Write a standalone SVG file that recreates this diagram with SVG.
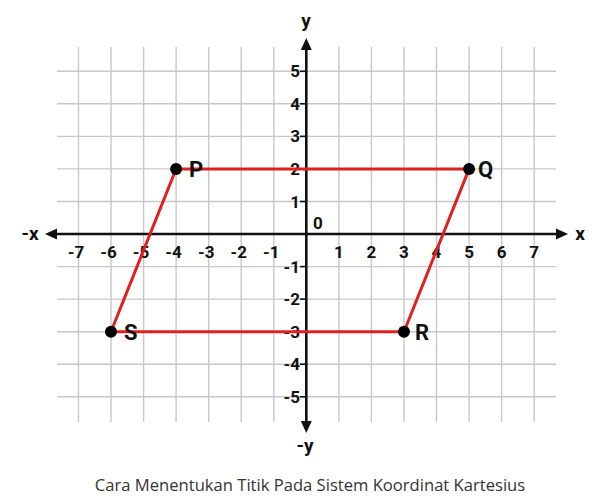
<svg xmlns="http://www.w3.org/2000/svg" width="608" height="504" viewBox="0 0 608 504">
<style>
.grid line{stroke:#c8c8c8;stroke-width:1.4}
.axis{stroke:#111;stroke-width:2.6}
.tick{stroke:#111;stroke-width:1.6}
.num{font-family:Roboto,"Liberation Sans",sans-serif;font-weight:bold;font-size:17px;fill:#111}
.xn{text-anchor:middle}
.yn{text-anchor:end}
.lab{font-family:Roboto,"Liberation Sans",sans-serif;font-weight:bold;font-size:19px;fill:#111}
.pt{font-family:Roboto,"Liberation Sans",sans-serif;font-weight:bold;font-size:22px;fill:#111}
.edge{stroke:#e0201e;stroke-width:3;fill:none}
.dot{fill:#000}
.cap{font-family:"Open Sans","Noto Sans",sans-serif;font-size:16.6px;fill:#333}
</style>
<rect width="608" height="504" fill="#fff"/>
<g id="grid" class="grid">
<line x1="78.5" y1="47" x2="78.5" y2="422"/>
<line x1="111" y1="47" x2="111" y2="422"/>
<line x1="143.6" y1="47" x2="143.6" y2="422"/>
<line x1="176.1" y1="47" x2="176.1" y2="422"/>
<line x1="208.7" y1="47" x2="208.7" y2="422"/>
<line x1="241.2" y1="47" x2="241.2" y2="422"/>
<line x1="273.8" y1="47" x2="273.8" y2="422"/>
<line x1="338.9" y1="47" x2="338.9" y2="422"/>
<line x1="371.4" y1="47" x2="371.4" y2="422"/>
<line x1="404" y1="47" x2="404" y2="422"/>
<line x1="436.5" y1="47" x2="436.5" y2="422"/>
<line x1="469.1" y1="47" x2="469.1" y2="422"/>
<line x1="501.6" y1="47" x2="501.6" y2="422"/>
<line x1="534.2" y1="47" x2="534.2" y2="422"/>
<line x1="57" y1="71.3" x2="556" y2="71.3"/>
<line x1="57" y1="103.8" x2="556" y2="103.8"/>
<line x1="57" y1="136.4" x2="556" y2="136.4"/>
<line x1="57" y1="168.9" x2="556" y2="168.9"/>
<line x1="57" y1="201.5" x2="556" y2="201.5"/>
<line x1="57" y1="266.6" x2="556" y2="266.6"/>
<line x1="57" y1="299.1" x2="556" y2="299.1"/>
<line x1="57" y1="331.7" x2="556" y2="331.7"/>
<line x1="57" y1="364.2" x2="556" y2="364.2"/>
<line x1="57" y1="396.8" x2="556" y2="396.8"/>
</g>
<g id="axes">
<line class="axis" x1="54" y1="234" x2="559" y2="234"/>
<line class="axis" x1="306.3" y1="48" x2="306.3" y2="424"/>
<polygon points="45,234 57,228.5 57,239.5" fill="#111"/>
<polygon points="568,234 556,228.5 556,239.5" fill="#111"/>
<polygon points="306.3,38 300.8,50 311.8,50" fill="#111"/>
<polygon points="306.3,433 300.8,421 311.8,421" fill="#111"/>
<g class="tick">
<line x1="300" y1="71.3" x2="306" y2="71.3"/>
<line x1="300" y1="103.8" x2="306" y2="103.8"/>
<line x1="300" y1="136.4" x2="306" y2="136.4"/>
<line x1="300" y1="168.9" x2="306" y2="168.9"/>
<line x1="300" y1="201.5" x2="306" y2="201.5"/>
<line x1="300" y1="266.6" x2="306" y2="266.6"/>
<line x1="300" y1="299.1" x2="306" y2="299.1"/>
<line x1="300" y1="331.7" x2="306" y2="331.7"/>
<line x1="300" y1="364.2" x2="306" y2="364.2"/>
<line x1="300" y1="396.8" x2="306" y2="396.8"/>
</g>
<text class="lab" x="30" y="240" text-anchor="middle">-x</text>
<text class="lab" x="580" y="240" text-anchor="middle">x</text>
<text class="lab" x="306" y="27" text-anchor="middle">y</text>
<text class="lab" x="305" y="452" text-anchor="middle">-y</text>
<text class="num" x="313" y="229">0</text>
</g>
<g id="xlabels" class="num xn">
<text x="76" y="257.5">-7</text>
<text x="108.5" y="257.5">-6</text>
<text x="141" y="257.5">-5</text>
<text x="173.6" y="257.5">-4</text>
<text x="206.2" y="257.5">-3</text>
<text x="238.7" y="257.5">-2</text>
<text x="271.3" y="257.5">-1</text>
<text x="338.9" y="257.5">1</text>
<text x="371.4" y="257.5">2</text>
<text x="404" y="257.5">3</text>
<text x="436.5" y="257.5">4</text>
<text x="469.1" y="257.5">5</text>
<text x="501.6" y="257.5">6</text>
<text x="534.2" y="257.5">7</text>
</g>
<g id="ylabels" class="num yn">
<text x="300" y="77.3">5</text>
<text x="300" y="109.8">4</text>
<text x="300" y="142.4">3</text>
<text x="300" y="174.9">2</text>
<text x="300" y="207.5">1</text>
<text x="300" y="272.6">-1</text>
<text x="300" y="305.1">-2</text>
<text x="300" y="337.7">-3</text>
<text x="300" y="370.2">-4</text>
<text x="300" y="402.8">-5</text>
</g>
<g id="connectors">
<polygon class="edge" points="176.1,168.9 469.1,168.9 404,331.7 111,331.7"/>
</g>
<g id="P"><circle class="dot" cx="176.1" cy="168.9" r="6"/><text class="pt" x="189" y="177">P</text></g>
<g id="Q"><circle class="dot" cx="469.1" cy="168.9" r="6"/><text class="pt" x="478" y="177">Q</text></g>
<g id="R"><circle class="dot" cx="404" cy="331.7" r="6"/><text class="pt" x="415" y="340">R</text></g>
<g id="S"><circle class="dot" cx="111" cy="331.7" r="6"/><text class="pt" x="124" y="340">S</text></g>
<text class="cap" x="310" y="491" text-anchor="middle">Cara Menentukan Titik Pada Sistem Koordinat Kartesius</text>
</svg>
